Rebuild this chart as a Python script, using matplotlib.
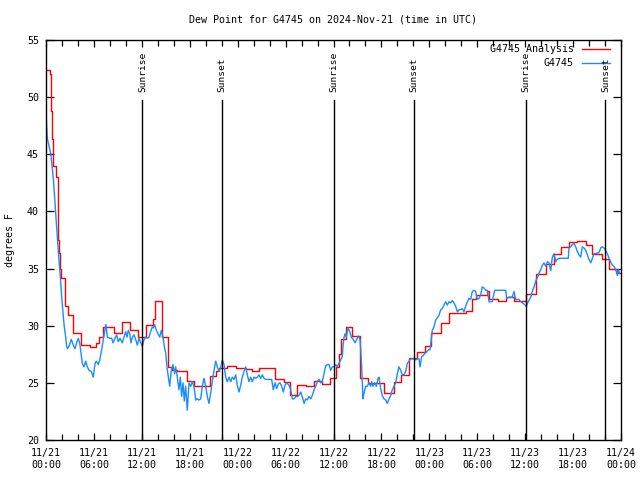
import matplotlib
matplotlib.use("Agg")
import matplotlib.pyplot as plt
from datetime import datetime, timedelta

# hours since 2024-11-21 00:00 UTC
station = "G4745"
start = datetime(2024, 11, 21, 0, 0)

# analysis (step series): start hour of each step, value
ana_hours = [0.00, 0.46, 0.59, 0.71, 0.84, 1.22, 1.54, 1.60, 1.72, 1.88, 2.41, 2.72,
             3.42, 4.42, 5.47, 6.22, 6.64, 7.17, 8.51, 9.56, 10.48, 11.48, 12.56,
             13.40, 13.61, 14.48, 15.32, 15.74, 16.44, 17.62, 18.53, 20.50, 21.25,
             21.66, 22.66, 23.75, 25.00, 25.79, 26.67, 28.64, 29.80, 30.52, 31.47,
             32.52, 33.56, 34.60, 35.56, 36.35, 36.69, 37.00, 37.60, 38.36, 39.28,
             40.36, 42.32, 43.58, 44.42, 45.45, 46.49, 47.46, 48.17, 49.42, 50.46,
             52.55, 53.34, 53.80, 55.22, 55.47, 56.60, 57.64, 58.60, 60.06, 61.36,
             62.65, 63.61, 64.53, 65.49, 66.53, 67.58, 68.41, 69.58, 70.50, 71.54, 72.00]
ana_vals = [52.4, 52.0, 48.8, 46.3, 44.0, 43.0, 37.5, 36.4, 35.0, 34.2, 31.7, 30.9,
            29.4, 28.3, 28.1, 28.5, 29.0, 29.9, 29.4, 30.3, 29.6, 29.0, 30.1,
            30.6, 32.2, 29.0, 26.4, 26.1, 26.0, 25.2, 24.7, 25.6, 26.0,
            26.3, 26.5, 26.3, 26.2, 26.0, 26.3, 25.3, 25.1, 23.9, 24.8,
            24.7, 25.2, 24.9, 25.4, 26.4, 27.5, 28.8, 29.9, 29.1, 25.4,
            25.0, 24.1, 25.1, 25.7, 27.2, 27.7, 28.2, 29.4, 30.2, 31.1,
            31.3, 32.3, 32.7, 33.0, 32.3, 32.2, 32.5, 32.2, 32.8, 34.5,
            35.4, 36.3, 36.9, 37.3, 37.4, 37.1, 36.3, 35.8, 35.0, 34.6, 34.6]

# station observations
obs_hours = [0.00, 0.16, 0.38, 0.59, 0.79, 0.96, 1.13, 1.29, 1.47, 1.63, 1.79, 1.97,
             2.13, 2.29, 2.47, 2.57, 2.67, 2.88, 3.17, 3.42, 3.63, 3.84, 4.04, 4.22,
             4.38, 4.55, 4.76, 4.97, 5.17, 5.38, 5.67, 5.92, 6.14, 6.30, 6.55, 6.76,
             6.97, 7.18, 7.39, 7.51, 7.68, 7.98, 8.23, 8.39, 8.64, 8.85, 9.05, 9.27,
             9.55, 9.77, 9.98, 10.14, 10.31, 10.48, 10.64, 10.81, 11.02, 11.23, 11.43,
             11.65, 11.86, 12.06, 12.27, 12.48, 12.68, 12.90, 13.11, 13.31, 13.44,
             13.61, 13.81, 14.02, 14.24, 14.44, 14.65, 14.81, 14.99, 15.15, 15.32,
             15.49, 15.69, 15.90, 16.12, 16.24, 16.44, 16.65, 16.82, 16.99, 17.16,
             17.32, 17.49, 17.69, 17.91, 18.12, 18.32, 18.53, 18.75, 18.95, 19.16,
             19.37, 19.57, 19.78, 20.00, 20.20, 20.41, 20.62, 20.82, 21.04, 21.25,
             21.45, 21.66, 21.88, 22.08, 22.29, 22.50, 22.70, 22.92, 23.13, 23.33,
             23.54, 23.75, 23.95, 24.17, 24.38, 24.58, 24.79, 25.01, 25.21, 25.42,
             25.63, 25.83, 26.05, 26.26, 26.46, 26.67, 26.88, 27.09, 27.30, 27.51,
             27.92, 28.26, 28.46, 28.68, 28.89, 29.09, 29.30, 29.51, 29.71, 29.93,
             30.14, 30.43, 30.64, 30.84, 31.05, 31.27, 31.47, 31.68, 31.89, 32.09,
             32.31, 32.52, 32.72, 32.93, 33.15, 33.35, 33.56, 33.77, 33.97, 34.19,
             34.40, 34.60, 34.81, 35.02, 35.22, 35.44, 35.65, 35.85, 36.06, 36.28,
             36.48, 36.69, 36.90, 37.10, 37.19, 37.32, 37.44, 37.60, 37.82, 38.03,
             38.23, 38.48, 38.69, 38.91, 39.11, 39.32, 39.41, 39.53, 39.61, 39.69,
             39.82, 40.03, 40.23, 40.45, 40.66, 40.78, 40.95, 41.16, 41.36, 41.58,
             41.70, 41.91, 42.11, 42.32, 42.54, 42.74, 42.95, 43.16, 43.36, 43.58,
             43.79, 43.99, 44.20, 44.42, 44.62, 44.83, 45.04, 45.24, 45.45, 45.67,
             45.87, 46.08, 46.29, 46.49, 46.71, 46.83, 47.04, 47.25, 47.46, 47.67,
             47.87, 48.08, 48.21, 48.37, 48.58, 48.80, 49.00, 49.21, 49.42, 49.62,
             49.84, 50.05, 50.25, 50.46, 50.68, 50.88, 51.09, 51.30, 51.51, 51.72,
             51.93, 52.13, 52.34, 52.55, 52.76, 52.97, 53.18, 53.38, 53.59, 53.80,
             54.00, 54.22, 54.43, 54.63, 54.84, 55.06, 55.26, 55.38, 55.47, 55.89,
             56.01, 56.19, 57.56, 57.69, 57.98, 58.39, 58.60, 58.81, 59.23, 59.44,
             59.85, 60.14, 60.39, 60.70, 60.89, 61.11, 61.32, 61.44, 61.61, 61.73,
             61.95, 62.15, 62.36, 62.57, 62.77, 62.99, 63.20, 63.40, 63.61, 63.82,
             64.03, 64.24, 65.40, 65.49, 65.70, 65.90, 66.12, 66.33, 66.53, 66.74,
             66.95, 67.16, 67.37, 67.58, 67.78, 67.99, 68.21, 68.41, 68.62, 69.25,
             69.46, 69.66, 69.87, 70.08, 70.29, 70.50, 70.71, 70.91, 71.12, 71.34,
             71.54, 71.66, 71.83]
obs_vals = [48.6, 46.4, 45.7, 45.1, 43.8, 42.5, 40.7, 39.0, 37.2, 35.8, 34.3, 32.5,
            31.1, 29.9, 29.0, 28.3, 28.0, 28.2, 28.8, 28.3, 28.0, 28.5, 28.9, 28.5,
            27.6, 26.7, 26.4, 26.9, 26.4, 26.1, 26.0, 25.5, 26.7, 26.9, 26.6, 27.1,
            27.9, 28.8, 29.6, 30.1, 29.0, 28.9, 28.9, 28.5, 28.9, 29.2, 28.6, 28.9,
            28.5, 29.0, 29.5, 29.0, 29.6, 29.3, 28.5, 29.0, 29.2, 28.8, 28.3,
            28.9, 28.5, 28.2, 28.8, 29.0, 28.9, 29.0, 29.5, 29.9, 29.8,
            30.1, 29.6, 29.3, 29.0, 29.6, 29.0, 28.2, 27.6, 26.4, 25.5,
            24.7, 26.1, 26.6, 25.8, 26.4, 25.5, 24.4, 25.5, 23.8, 25.0,
            23.4, 24.7, 22.6, 25.0, 24.7, 25.1, 24.7, 23.5, 23.6, 23.5,
            23.6, 24.7, 25.4, 24.7, 23.8, 23.2, 24.1, 25.1, 26.1, 26.9,
            26.4, 26.0, 26.4, 27.0, 26.6, 25.5, 25.1, 25.5, 25.1, 25.5,
            25.3, 25.7, 24.8, 24.2, 24.8, 25.5, 26.0, 26.4, 25.7, 25.1,
            25.5, 25.1, 25.5, 25.4, 25.5, 25.7, 25.4, 25.7, 25.4, 25.3,
            25.3, 25.3, 24.4, 25.0, 24.5, 24.9, 25.0, 24.7, 24.2, 24.8,
            25.0, 24.8, 24.4, 23.6, 23.6, 23.8, 23.8, 23.9, 24.2, 23.8,
            23.2, 23.6, 23.5, 23.8, 23.6, 23.9, 24.4, 24.7, 25.1, 25.3,
            25.0, 25.1, 25.8, 26.5, 26.6, 26.6, 26.1, 26.4, 26.4, 26.6,
            26.4, 26.7, 27.0, 27.3, 28.2, 29.0, 29.3, 29.0, 29.8, 29.5,
            29.0, 28.8, 28.5, 28.8, 29.1, 28.8, 27.9, 26.4, 25.0, 23.6,
            24.1, 24.7, 24.7, 25.0, 24.7, 25.1, 24.7, 25.0, 24.7, 25.4,
            25.5, 24.5, 23.9, 23.6, 23.5, 23.2, 23.6, 23.9, 24.4, 24.7,
            25.0, 25.8, 26.4, 26.1, 25.7, 25.7, 26.0, 26.7, 26.9, 27.1,
            27.1, 27.1, 27.0, 27.1, 27.1, 26.4, 27.3, 27.4, 27.6, 27.7,
            27.9, 27.9, 28.6, 29.6, 29.9, 30.5, 30.7, 30.9, 31.4, 31.5,
            31.8, 32.1, 31.8, 32.1, 32.0, 32.2, 32.0, 31.7, 31.2, 31.4,
            31.4, 31.5, 31.2, 31.7, 32.1, 32.4, 32.3, 33.0, 33.1, 33.0,
            32.3, 32.4, 32.7, 33.4, 33.3, 33.1, 33.1, 32.5, 32.1, 32.1,
            32.6, 33.1, 33.1, 32.4, 32.5, 32.5, 33.0, 32.3, 32.3, 32.1,
            31.9, 31.7, 32.1, 32.5, 33.0, 33.4, 33.9, 34.1, 34.3, 34.6,
            34.9, 35.3, 35.5, 35.2, 35.6, 35.5, 34.8, 36.0, 36.3, 35.6,
            35.8, 35.9, 35.9, 36.8, 36.9, 37.1, 37.2, 36.9, 36.5, 36.2,
            36.0, 36.9, 36.8, 36.6, 36.2, 35.8, 35.5, 35.9, 36.3, 36.4,
            36.8, 36.9, 36.8, 36.6, 36.3, 35.9, 35.6, 35.3, 35.2, 34.9,
            34.4, 34.9, 34.6]

sunrise = [12.07, 36.10, 60.13]
sunset = [22.07, 46.05, 70.05]

font = "DejaVu Sans Mono"
fs = 7.2
lw = 1.0
ana_color = "#ff0000"
obs_color = "#1a8cff"

fig = plt.figure(figsize=(6.4, 4.8), dpi=100)
ax = fig.add_axes([46 / 640, 40 / 480, 575 / 640, 400 / 480])

ax.plot(ana_hours, ana_vals, drawstyle="steps-post", color=ana_color, lw=lw)
ax.plot(obs_hours, obs_vals, color=obs_color, lw=lw)

# sunrise / sunset markers
trans = ax.get_xaxis_transform()
for h in sunrise + sunset:
    lab = "Sunrise" if h in sunrise else "Sunset"
    ax.plot([h, h], [0, 0.85], color="black", lw=lw, transform=trans)
    ax.text(h, 0.87, lab, rotation=90, ha="center", va="bottom",
            transform=trans, family=font, fontsize=fs - 0.4)

# legend drawn gnuplot style: text right aligned, sample to the right
for i, (lab, col) in enumerate([(station + " Analysis", ana_color), (station, obs_color)]):
    y = 0.977 - i * 0.0335
    ax.text(0.918, y, lab, ha="right", va="center", transform=ax.transAxes,
            family=font, fontsize=fs)
    ax.plot([0.932, 0.981], [y, y], color=col, lw=lw, transform=ax.transAxes)

ax.set_xlim(0, 72)
ax.set_ylim(20, 55)
xt = list(range(0, 73, 6))
ax.set_xticks(xt)
ax.set_xticklabels([(start + timedelta(hours=h)).strftime("%m/%d\n%H:%M") for h in xt])
ax.set_xticks(list(range(0, 73, 2)), minor=True)
ax.set_yticks(range(20, 56, 5))

ax.tick_params(axis="both", which="both", direction="in", top=True, right=True,
               labelsize=fs, width=0.9)
ax.tick_params(axis="x", which="major", length=5, pad=6)
ax.tick_params(axis="x", which="minor", length=4)
ax.tick_params(axis="y", which="major", length=6, pad=5)
for lab in ax.get_xticklabels() + ax.get_yticklabels():
    lab.set_family(font)
for s in ax.spines.values():
    s.set_linewidth(1.0)

fig.text(0.52, 1 - 19 / 480, "Dew Point for %s on 2024-Nov-21 (time in UTC)" % station,
         ha="center", va="center", family=font, fontsize=fs)
fig.text(10 / 640, 0.5, "degrees F", rotation=90, ha="center", va="center",
         family=font, fontsize=fs)

fig.savefig("out.png", dpi=100)
